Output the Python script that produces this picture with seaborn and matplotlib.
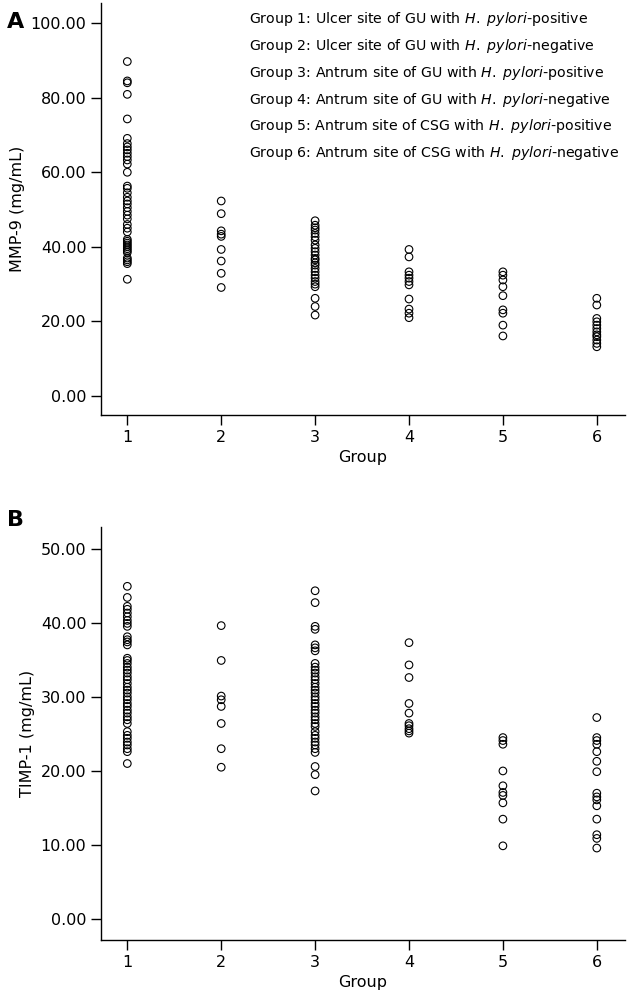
import numpy as np
import pandas as pd
import matplotlib.pyplot as plt
import seaborn as sns

# SECTION - DATA
groups = [1, 2, 3, 4, 5, 6]

mmp9_g1 = [89.7, 84.5, 84.0, 80.9, 74.3, 69.1, 67.7, 66.8, 66.0, 65.1, 64.2, 63.3,
           62.2, 60.0, 56.3, 55.7, 54.5, 53.3, 52.3, 51.5, 50.5, 49.5, 48.5, 47.5,
           46.0, 45.0, 44.0, 42.0, 41.5, 41.0, 40.5, 40.0, 39.5, 39.0, 38.5, 37.0,
           36.5, 36.0, 35.5, 31.3]
mmp9_g2 = [52.3, 48.9, 44.3, 43.4, 42.8, 39.3, 36.2, 32.9, 29.1]
mmp9_g3 = [47.0, 45.8, 45.1, 44.5, 43.6, 42.7, 41.8, 40.5, 39.6, 38.7, 37.8, 36.9,
           36.5, 35.7, 35.1, 34.2, 33.3, 32.4, 31.6, 30.7, 30.0, 29.3, 26.2, 24.0,
           21.7]
mmp9_g4 = [39.3, 37.3, 33.3, 32.4, 31.6, 30.7, 29.8, 26.0, 23.3, 22.2, 21.0]
mmp9_g5 = [33.3, 32.4, 31.1, 29.3, 26.9, 23.1, 22.2, 19.0, 16.1]
mmp9_g6 = [26.2, 24.4, 20.8, 19.9, 19.0, 18.1, 17.2, 16.4, 15.9, 15.0, 14.1, 13.2]

timp1_g1 = [44.9, 43.4, 42.2, 41.8, 41.3, 40.8, 40.3, 39.9, 39.5, 38.1, 37.7, 37.4,
            37.0, 35.2, 34.9, 34.5, 34.0, 33.6, 33.2, 32.7, 32.3, 31.8, 31.3, 30.9,
            30.5, 30.0, 29.6, 29.1, 28.7, 28.2, 27.8, 27.3, 26.9, 26.4, 25.3, 24.8,
            24.4, 23.9, 23.5, 23.0, 22.6, 21.0]
timp1_g2 = [39.6, 34.9, 30.1, 29.6, 28.7, 26.4, 23.0, 20.5]
timp1_g3 = [44.3, 42.7, 39.5, 39.1, 37.0, 36.6, 36.2, 34.5, 34.0, 33.6, 33.2, 32.7,
            32.3, 31.8, 31.3, 30.9, 30.5, 30.0, 29.6, 29.1, 28.7, 28.2, 27.8, 27.3,
            26.9, 26.4, 26.0, 25.3, 24.8, 24.4, 23.9, 23.5, 23.0, 22.5, 20.6, 19.5,
            17.3]
timp1_g4 = [37.3, 34.3, 32.6, 29.1, 27.8, 26.4, 26.1, 25.7, 25.4, 25.1]
timp1_g5 = [24.5, 24.1, 23.6, 20.0, 18.0, 17.1, 16.7, 15.7, 13.5, 9.9]
timp1_g6 = [27.2, 24.5, 24.1, 23.6, 22.6, 21.3, 19.9, 17.0, 16.5, 16.1, 15.3, 13.5,
            11.4, 10.9, 9.6]

group_notes = [
    "Ulcer site of GU with $\\it{H.}$ $\\it{pylori}$-positive",
    "Ulcer site of GU with $\\it{H.}$ $\\it{pylori}$-negative",
    "Antrum site of GU with $\\it{H.}$ $\\it{pylori}$-positive",
    "Antrum site of GU with $\\it{H.}$ $\\it{pylori}$-negative",
    "Antrum site of CSG with $\\it{H.}$ $\\it{pylori}$-positive",
    "Antrum site of CSG with $\\it{H.}$ $\\it{pylori}$-negative",
]
# !SECTION


def to_long(series_list):
    rows = []
    for g, vals in zip(groups, series_list):
        rows += [(g, v) for v in vals]
    return pd.DataFrame(rows, columns=["Group", "value"])


mmp9 = to_long([mmp9_g1, mmp9_g2, mmp9_g3, mmp9_g4, mmp9_g5, mmp9_g6])
timp1 = to_long([timp1_g1, timp1_g2, timp1_g3, timp1_g4, timp1_g5, timp1_g6])

sns.set_style("ticks")
plt.rcParams["font.family"] = ["DejaVu Sans"]
plt.rcParams["mathtext.fontset"] = "dejavusans"
for key in ["text.color", "axes.labelcolor", "xtick.color", "ytick.color"]:
    plt.rcParams[key] = "black"

fig = plt.figure(figsize=(6.29, 10), dpi=100)
ax_a = fig.add_axes([0.1606, 0.585, 0.833, 0.412])
ax_b = fig.add_axes([0.1606, 0.060, 0.833, 0.413])

for ax, df, ylab, ylim, yticks in [
    (ax_a, mmp9, "MMP-9 (mg/mL)", (-5.1, 105.4), np.arange(0, 101, 20)),
    (ax_b, timp1, "TIMP-1 (mg/mL)", (-2.8, 52.9), np.arange(0, 51, 10)),
]:
    sns.scatterplot(data=df, x="Group", y="value", ax=ax, marker="o",
                    facecolor="none", edgecolor="black", linewidth=0.8, s=30)
    ax.set_xlim(0.72, 6.3)
    ax.set_ylim(*ylim)
    ax.set_xticks(groups)
    ax.set_yticks(yticks)
    ax.set_yticklabels([f"{t:.2f}" for t in yticks])
    ax.set_ylabel(ylab, fontsize=11.5)
    ax.set_xlabel("Group", fontsize=11.5)
    ax.tick_params(axis="both", labelsize=11.5, length=7, width=1, colors="black")
    for sp in ["left", "bottom"]:
        ax.spines[sp].set_linewidth(1)
        ax.spines[sp].set_color("black")
    sns.despine(ax=ax)

# group key in panel A
for i, note in enumerate(group_notes):
    ax_a.text(0.282, 0.982 - i * 0.0648, f"Group {i + 1}: {note}",
              transform=ax_a.transAxes, fontsize=10.2, va="top", ha="left")

fig.text(0.011, 0.978, "A", fontsize=16, fontweight="bold", va="center")
fig.text(0.011, 0.480, "B", fontsize=16, fontweight="bold", va="center")

plt.savefig("out.png", dpi=100)
